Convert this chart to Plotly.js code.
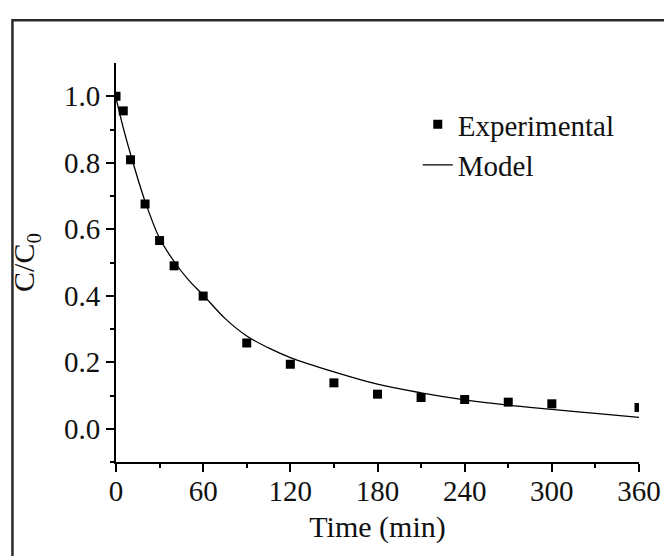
<!DOCTYPE html>
<html>
<head>
<meta charset="utf-8">
<script src="https://cdn.plot.ly/plotly-3.0.1.min.js"></script>
<style>html,body{margin:0;padding:0;background:#fff;}#chart{width:664px;height:556px;}</style>
</head>
<body>
<div id="chart"></div>
<script>
// Experimental data
var expTime = [0, 5, 10, 20, 30, 40, 60, 90, 120, 150, 180, 210, 240, 270, 300, 360];
var expC = [1.0, 0.956, 0.809, 0.676, 0.566, 0.490, 0.399, 0.258, 0.194, 0.138, 0.104, 0.094, 0.088, 0.080, 0.075, 0.064];

// Model curve
var modelTime = [0, 5, 10, 20, 30, 40, 50, 60, 75, 90, 105, 120, 150, 180, 210, 240, 270, 300, 330, 360];
var modelC = [0.995, 0.905, 0.826, 0.684, 0.573, 0.503, 0.447, 0.402, 0.332, 0.279, 0.243, 0.214, 0.171, 0.134, 0.108, 0.087, 0.071, 0.058, 0.046, 0.034];

var xTicks = [0, 60, 120, 180, 240, 300, 360];
var yTicks = [0.0, 0.2, 0.4, 0.6, 0.8, 1.0];
var yTickText = ['0.0', '0.2', '0.4', '0.6', '0.8', '1.0'];

var font = 'Liberation Serif, Times New Roman, serif';

var traces = [
  {
    x: expTime, y: expC, type: 'scatter', mode: 'markers', name: 'Experimental',
    marker: {symbol: 'square', size: 9, color: '#000'}
  },
  {
    x: modelTime, y: modelC, type: 'scatter', mode: 'lines', name: 'Model',
    line: {color: '#000', width: 1.3, shape: 'spline', smoothing: 1}
  }
];

var axisCommon = {
  showgrid: false, zeroline: false, showline: true, linecolor: '#000', linewidth: 2,
  ticks: 'outside', ticklen: 8, tickwidth: 2, tickcolor: '#000',
  tickfont: {family: font, size: 29, color: '#111'}
};

var layout = {
  width: 664, height: 556,
  margin: {l: 116, r: 25, t: 63, b: 94},
  paper_bgcolor: '#fff', plot_bgcolor: '#fff',
  showlegend: true,
  legend: {
    x: 0.577, y: 0.91, xanchor: 'left', yanchor: 'top',
    bgcolor: 'rgba(0,0,0,0)', borderwidth: 0,
    font: {family: font, size: 29, color: '#111'},
    tracegroupgap: 0
  },
  xaxis: Object.assign({}, axisCommon, {
    range: [0, 360], tickvals: xTicks, ticktext: xTicks.map(String),
    ticklabelstandoff: -6,
    minor: {tickvals: [30, 90, 150, 210, 270, 330], ticklen: 4, tickwidth: 2, tickcolor: '#000', ticks: 'outside'},
    title: {text: 'Time (min)', font: {family: font, size: 30, color: '#111'}, standoff: 10}
  }),
  yaxis: Object.assign({}, axisCommon, {
    range: [-0.1, 1.1], tickvals: yTicks, ticktext: yTickText,
    minor: {tickvals: [-0.1, 0.1, 0.3, 0.5, 0.7, 0.9], ticklen: 4, tickwidth: 2, tickcolor: '#000', ticks: 'outside'},
    title: {text: 'C/C<sub>0</sub>\u00a0\u00a0', font: {family: font, size: 30, color: '#111'}, standoff: 20}
  }),
  shapes: [
    {type: 'rect', xref: 'paper', yref: 'paper', x0: -0.198, x1: 1.3, y0: -0.5, y1: 1.107,
     line: {color: '#2a2a2a', width: 2.5}, fillcolor: 'rgba(0,0,0,0)', layer: 'below'}
  ]
};

Plotly.newPlot('chart', traces, layout, {staticPlot: true, displayModeBar: false});
</script>
</body>
</html>
